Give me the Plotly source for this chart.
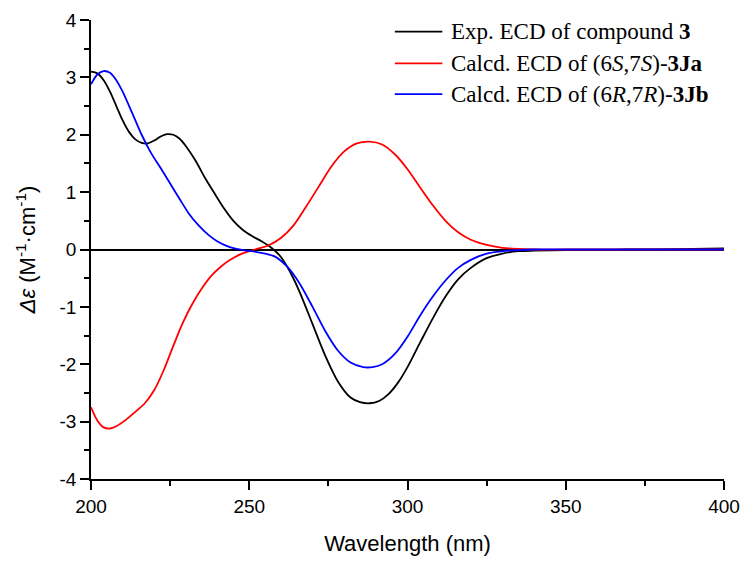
import plotly.graph_objects as go

# ---- data ----
exp_wl = [200, 202, 204, 206, 208, 210, 212, 214, 216, 218, 220, 222, 224, 226, 228, 230, 233, 236, 239, 242,
          245, 248, 251, 254, 257, 260, 263, 266, 270, 274, 278, 282, 285, 288, 291, 294, 297, 300, 304, 308,
          312, 316, 320, 325, 330, 335, 340, 350, 360, 370, 380, 390, 400]
exp_cd = [3.1, 3.07, 2.95, 2.75, 2.5, 2.25, 2.05, 1.92, 1.86, 1.85, 1.9, 1.97, 2.01, 2.0, 1.93, 1.8, 1.55, 1.25, 0.98, 0.72,
          0.5, 0.34, 0.23, 0.14, 0.03, -0.13, -0.4, -0.75, -1.3, -1.85, -2.3, -2.58, -2.66, -2.68, -2.64, -2.52, -2.32, -2.05, -1.62, -1.2,
          -0.82, -0.52, -0.32, -0.15, -0.07, -0.03, -0.02, -0.01, -0.01, 0.0, 0.0, 0.01, 0.02]

ja_wl = [200, 202, 204, 206, 208, 211, 214, 217, 220, 223, 226, 229, 232, 235, 238, 241, 244, 247, 250, 253,
         256, 260, 264, 268, 272, 276, 280, 284, 288, 292, 296, 300, 304, 308, 312, 316, 320, 325, 330, 335,
         340, 350, 360, 380, 400]
ja_cd = [-2.75, -2.98, -3.1, -3.12, -3.08, -2.97, -2.83, -2.68, -2.45, -2.1, -1.68, -1.28, -0.95, -0.68, -0.46, -0.3, -0.18, -0.09, -0.03, 0.02,
         0.07, 0.2, 0.42, 0.75, 1.1, 1.45, 1.71, 1.85, 1.88, 1.83, 1.66, 1.4, 1.08, 0.77, 0.5, 0.3, 0.17, 0.08, 0.03, 0.01,
         0.0, 0.0, 0.0, 0.0, 0.0]

jb_wl = [200, 202, 204, 206, 208, 210, 213, 216, 219, 222, 225, 228, 231, 234, 237, 240, 243, 246, 249, 252,
         255, 258, 262, 266, 270, 274, 278, 282, 286, 289, 292, 296, 300, 304, 308, 312, 316, 320, 325, 330,
         335, 340, 350, 370, 400]
jb_cd = [2.88, 3.05, 3.11, 3.08, 2.95, 2.75, 2.38, 2.0, 1.68, 1.42, 1.15, 0.88, 0.62, 0.42, 0.26, 0.14, 0.06, 0.01, -0.02, -0.04,
         -0.07, -0.12, -0.3, -0.6, -1.0, -1.42, -1.76, -1.97, -2.05, -2.05, -2.0, -1.82, -1.52, -1.15, -0.82, -0.54, -0.32, -0.18, -0.07, -0.03,
         -0.01, 0.0, 0.0, 0.0, 0.0]

series_names = ["Exp. ECD of compound <b>3</b>",
                "Calcd. ECD of (6<i>S</i>,7<i>S</i>)-<b>3Ja</b>",
                "Calcd. ECD of (6<i>R</i>,7<i>R</i>)-<b>3Jb</b>"]
series_colors = ["#000000", "#ff0000", "#0000ff"]

x_ticks = [200, 250, 300, 350, 400]
x_ticktext = ["200", "250", "300", "350", "400"]
y_ticks = [-4, -3, -2, -1, 0, 1, 2, 3, 4]
y_ticktext = ["-4", "-3", "-2", "-1", "0", "1", "2", "3", "4"]

fig = go.Figure()
for wl, cd, name, col in zip([exp_wl, ja_wl, jb_wl], [exp_cd, ja_cd, jb_cd], series_names, series_colors):
    fig.add_trace(go.Scatter(x=wl, y=cd, mode="lines", name=name,
                             line=dict(color=col, width=1.8, shape="spline", smoothing=0.8),
                             showlegend=False))

# manual legend (line sample + label) in paper coordinates
leg_y = [0.9748, 0.9057, 0.8386]
for yy, name, col in zip(leg_y, series_names, series_colors):
    fig.add_shape(type="line", xref="paper", yref="paper", x0=0.48, x1=0.555, y0=yy, y1=yy,
                  line=dict(color=col, width=1.8))
    fig.add_annotation(xref="paper", yref="paper", x=0.566, y=yy, text=name, showarrow=False,
                       xanchor="left", yanchor="middle",
                       font=dict(family="Liberation Serif", size=23, color="black"))

axis_common = dict(showline=True, linecolor="black", linewidth=1.5, ticks="outside", ticklen=9,
                   tickwidth=1.5, tickcolor="black", showgrid=False, mirror=False,
                   ticklabeloverflow="allow",
                   tickfont=dict(family="Liberation Sans", size=19, color="black"))

fig.update_xaxes(range=[200, 400], tickvals=x_ticks, ticktext=x_ticktext, zeroline=False,
                 minor=dict(dtick=25, ticks="outside", ticklen=5, tickwidth=1.5, tickcolor="black", showgrid=False),
                 title=dict(text="Wavelength (nm)", font=dict(family="Liberation Sans", size=22, color="black"),
                            standoff=20),
                 **axis_common)
fig.update_yaxes(range=[-4, 4], tickvals=y_ticks, ticktext=y_ticktext, zeroline=True, zerolinecolor="black",
                 zerolinewidth=1.5,
                 minor=dict(dtick=0.5, ticks="outside", ticklen=5, tickwidth=1.5, tickcolor="black", showgrid=False),
                 title=dict(text="<i>Δε</i> (M<sup>-1</sup>·cm<sup>-1</sup>)",
                            font=dict(family="Liberation Sans", size=22, color="black"), standoff=18),
                 **axis_common)

fig.update_layout(width=750, height=562, margin=dict(l=91, r=19, t=10, b=75),
                  plot_bgcolor="white", paper_bgcolor="white")

fig.write_html("out.html", config={"displayModeBar": False},
               post_script="document.body.style.margin='0';document.body.style.overflow='hidden';")
